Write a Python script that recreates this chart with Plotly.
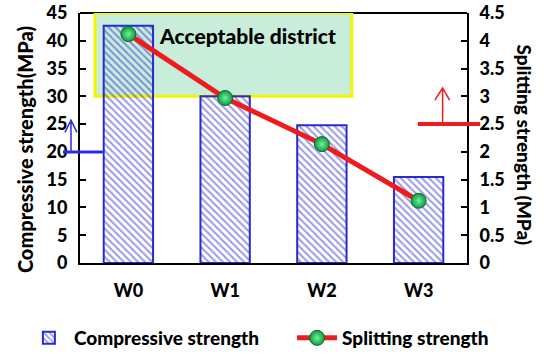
import plotly.graph_objects as go

categories = ["W0", "W1", "W2", "W3"]
compressive = [42.7, 30.0, 24.8, 15.5]
splitting = [4.12, 2.97, 2.14, 1.12]
left_ticks = [0, 5, 10, 15, 20, 25, 30, 35, 40, 45]
right_ticks = [0, 0.5, 1, 1.5, 2, 2.5, 3, 3.5, 4, 4.5]
right_ticktext = ["0", "0.5", "1", "1.5", "2", "2.5", "3", "3.5", "4", "4.5"]
compressive_threshold = 20
splitting_threshold = 2.5
accept_lower = 30

FONT = "Lato"
BOLD = dict(family=FONT, weight=900, color="black")

fig = go.Figure()
fig.add_trace(go.Bar(
    x=categories, y=compressive, name="Compressive strength", legend="legend",
    marker=dict(color="rgba(255,255,255,0)",
                line=dict(color="#2a2ad0", width=2),
                pattern=dict(shape="\\", fgcolor="#3030d8", size=5, solidity=0.4)),
    width=0.51,
))
fig.add_trace(go.Scatter(
    x=categories, y=splitting, name="Splitting strength", yaxis="y2", legend="legend2",
    mode="lines+markers",
    line=dict(color="#ee1c1c", width=5),
    marker=dict(size=15, color="#109a40", line=dict(color="#0b6b2c", width=1),
                gradient=dict(type="radial", color="#6ff29c")),
))

# Acceptable district rectangle
fig.add_shape(type="rect", xref="x", yref="y", x0=-0.345, x1=2.31, y0=accept_lower, y1=45,
              fillcolor="rgba(170,228,200,0.65)", line=dict(color="#f5f500", width=3),
              layer="below")
fig.add_annotation(x=1.23, y=41.0, xref="x", yref="y", text="Acceptable district",
                   showarrow=False, font=dict(size=21, **BOLD))

# blue threshold marker (left)
fig.add_shape(type="line", xref="paper", yref="y", x0=-0.044, x1=0.059,
              y0=compressive_threshold, y1=compressive_threshold,
              line=dict(color="#2a2ae6", width=3), layer="above")
fig.add_shape(type="path", xref="paper", yref="y",
              path=f"M -0.0233 {compressive_threshold} L -0.0233 25.7 M -0.0388 23.5 L -0.0233 25.7 L -0.0078 23.5",
              line=dict(color="#2a2ae6", width=1.5), layer="above")

# red threshold marker (right)
fig.add_shape(type="line", xref="paper", yref="y2", x0=0.873, x1=1.034,
              y0=splitting_threshold, y1=splitting_threshold,
              line=dict(color="#ee1c1c", width=4), layer="above")
fig.add_shape(type="path", xref="paper", yref="y2",
              path=f"M 0.937 {splitting_threshold} L 0.937 3.15 M 0.917 2.93 L 0.937 3.15 L 0.955 2.93",
              line=dict(color="#ee1c1c", width=1.5), layer="above")

# axis titles
fig.add_annotation(x=-0.178, y=0.452, xref="paper", yref="paper", text="Compressive strength(MPa)",
                   textangle=-90, showarrow=False, font=dict(size=20, **BOLD))
fig.add_annotation(x=1.186, y=0.472, xref="paper", yref="paper", text="Splitting strength (MPa)",
                   textangle=90, showarrow=False, font=dict(size=19, **BOLD))

legend_common = dict(orientation="h", xanchor="left", y=-0.3, yanchor="middle",
                     font=dict(size=19, **BOLD), itemwidth=40, bgcolor="rgba(0,0,0,0)")

fig.update_layout(
    width=550, height=354,
    margin=dict(l=80, r=83, t=13, b=91, autoexpand=False),
    plot_bgcolor="white", paper_bgcolor="white",
    showlegend=True,
    legend=dict(x=-0.145, **legend_common),
    legend2=dict(x=0.548, **legend_common),
    bargap=0.49,
    xaxis=dict(range=[-0.5, 3.5], showline=True, linecolor="black", linewidth=2,
               ticks="", tickfont=dict(size=18, **BOLD), ticklabelstandoff=10,
               automargin=False, showgrid=False),
    yaxis=dict(range=[0, 45], tickvals=left_ticks, showline=True, linecolor="black", linewidth=2,
               ticks="inside", ticklen=6, tickwidth=1.5, tickcolor="black", automargin=False,
               ticklabelstandoff=7,
               tickfont=dict(size=18, **BOLD), showgrid=False, zeroline=False),
    yaxis2=dict(range=[0, 4.5], tickvals=right_ticks, ticktext=right_ticktext,
                overlaying="y", side="right", showline=True, linecolor="black", linewidth=2,
                ticks="inside", ticklen=6, tickwidth=1.5, tickcolor="black", automargin=False,
                ticklabelstandoff=7,
                tickfont=dict(size=18, **BOLD), showgrid=False, zeroline=False),
)
# top border line
fig.add_shape(type="line", xref="paper", yref="paper", x0=0, x1=1, y0=1, y1=1,
              line=dict(color="black", width=2), layer="below")

fig.write_html("out.html", config={"displayModeBar": False},
               post_script="document.body.style.margin='0';")
